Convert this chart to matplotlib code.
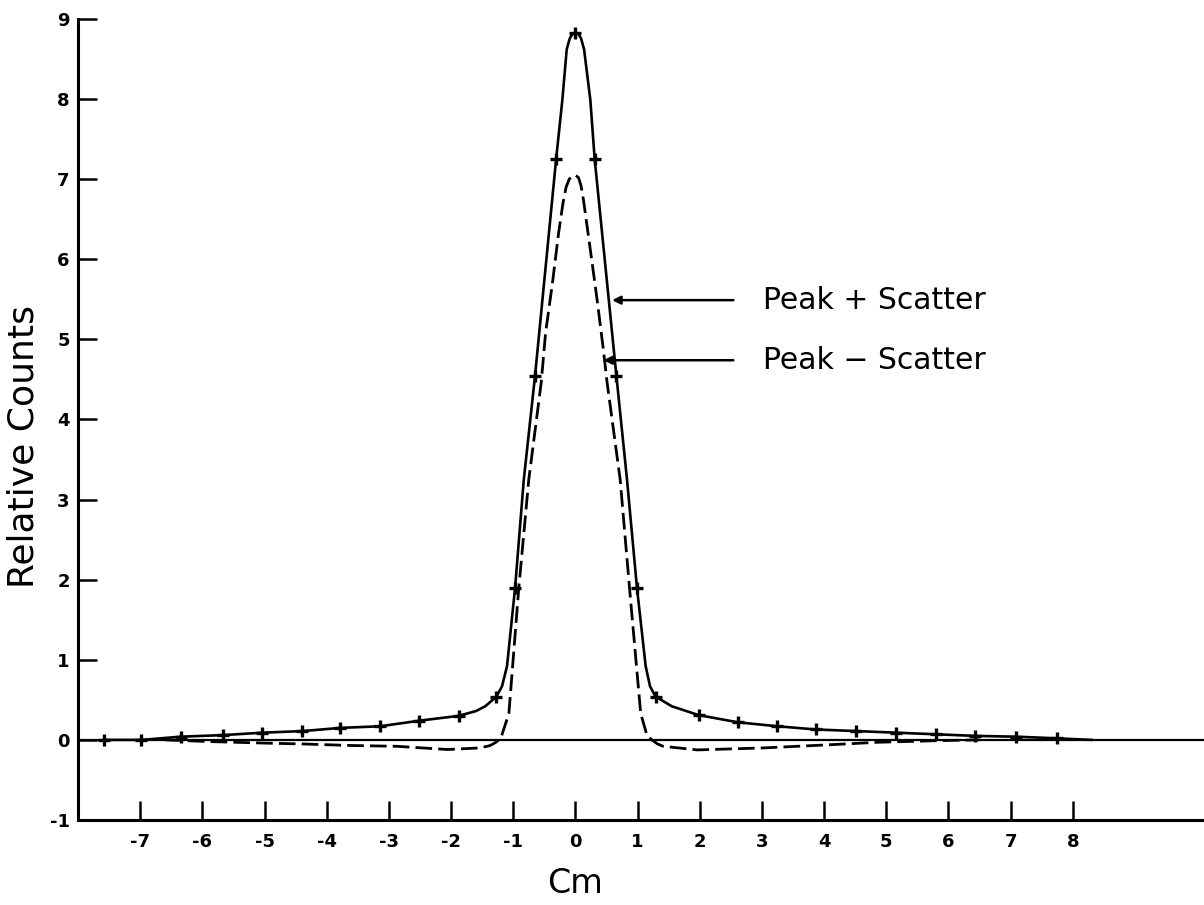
import numpy as np
import matplotlib.pyplot as plt

# Peak + Scatter: traced curve and the measured points (+)
peak_scatter_x = [-7.58, -6.98, -6.35, -5.66, -5.04, -4.39, -3.78, -3.14, -2.51, -1.88,
                  -1.6, -1.45, -1.27, -1.18, -1.10, -0.97, -0.83, -0.65, -0.31, -0.21,
                  -0.14, -0.09, -0.04, 0.0, 0.04, 0.09, 0.14, 0.24, 0.31, 0.66,
                  0.83, 0.99, 1.13, 1.20, 1.29, 1.55, 1.98, 2.61, 3.25, 3.87,
                  4.52, 5.16, 5.80, 6.43, 7.09, 7.74, 8.3]
peak_scatter_y = [0.0, 0.0, 0.04, 0.06, 0.09, 0.11, 0.15, 0.17, 0.24, 0.30,
                  0.36, 0.42, 0.54, 0.67, 0.92, 1.90, 3.25, 4.54, 7.25, 7.99,
                  8.62, 8.76, 8.82, 8.83, 8.82, 8.76, 8.62, 7.99, 7.25, 4.54,
                  3.25, 1.90, 0.92, 0.67, 0.54, 0.42, 0.31, 0.22, 0.17, 0.13,
                  0.11, 0.09, 0.07, 0.05, 0.04, 0.02, 0.0]

point_x = [-7.58, -6.98, -6.35, -5.66, -5.04, -4.39, -3.78, -3.14, -2.51, -1.88,
           -1.27, -0.97, -0.65, -0.31, 0.0, 0.31, 0.66, 0.99, 1.29, 1.98,
           2.61, 3.25, 3.87, 4.52, 5.16, 5.80, 6.43, 7.09, 7.74]
point_y = [0.0, 0.0, 0.04, 0.06, 0.09, 0.11, 0.15, 0.17, 0.24, 0.30,
           0.54, 1.90, 4.54, 7.25, 8.83, 7.25, 4.54, 1.90, 0.54, 0.31,
           0.22, 0.17, 0.13, 0.11, 0.09, 0.07, 0.05, 0.04, 0.02]

# Peak - Scatter (dashed)
peak_minus_x = [-6.6, -5.92, -5.0, -4.42, -3.6, -2.87, -2.06, -1.53, -1.37, -1.28,
                -1.20, -1.07, -0.91, -0.75, -0.55, -0.48, -0.37, -0.27, -0.20, -0.15,
                -0.10, -0.05, 0.0, 0.05, 0.09, 0.13, 0.24, 0.35, 0.45, 0.51,
                0.72, 0.87, 1.05, 1.15, 1.23, 1.32, 1.41, 1.96, 3.03, 4.1,
                4.85, 5.8, 6.5]
peak_minus_y = [0.0, -0.02, -0.04, -0.05, -0.07, -0.08, -0.12, -0.10, -0.07, -0.03,
                0.02, 0.33, 1.90, 3.25, 4.46, 5.08, 5.70, 6.33, 6.70, 6.90,
                7.00, 7.04, 7.05, 7.02, 6.92, 6.74, 6.12, 5.49, 4.87, 4.46,
                3.25, 1.90, 0.33, 0.06, 0.0, -0.05, -0.08, -0.125, -0.10, -0.06,
                -0.03, -0.01, 0.0]

x_ticks = list(range(-7, 9))
y_ticks = list(range(-1, 10))

labels = ["Peak + Scatter", "Peak \u2212 Scatter"]
label_y = [5.49, 4.74]
arrow_tip_x = [0.59, 0.45]

fig = plt.figure(figsize=(12.04, 9.05), dpi=100)
ax = fig.add_axes([78 / 1204, 85 / 905, 1 - 78 / 1204, 801 / 905])

ax.axhline(0, color='black', lw=1.6, zorder=1)
ax.plot(peak_scatter_x, peak_scatter_y, color='black', lw=1.9, zorder=2)
ax.plot(point_x, point_y, ls='none', marker='+', ms=9, mew=2.4, color='black', zorder=3)
ax.plot(peak_minus_x, peak_minus_y, color='black', lw=2.0, dashes=(6, 2.2), zorder=2)

for txt, yy, xt in zip(labels, label_y, arrow_tip_x):
    ax.annotate('', xy=(xt, yy), xytext=(2.54, yy),
                arrowprops=dict(arrowstyle='-|>', lw=1.8, color='black',
                                mutation_scale=12, shrinkA=0, shrinkB=0))
    ax.text(3.02, yy, txt, fontsize=21.5, va='center', ha='left')

ax.set_xlim(-8, 10.11)
ax.set_ylim(-1, 9)
ax.set_xticks(x_ticks)
ax.set_xticklabels([str(v) for v in x_ticks], fontweight='bold', fontsize=13)
ax.set_yticks(y_ticks)
ax.set_yticklabels([str(v) for v in y_ticks], fontweight='bold', fontsize=13)
ax.tick_params(axis='both', direction='in', length=14, width=1.8)
ax.tick_params(axis='x', pad=9)
ax.tick_params(axis='y', pad=6)

for s in ['top', 'right']:
    ax.spines[s].set_visible(False)
for s in ['left', 'bottom']:
    ax.spines[s].set_linewidth(2.2)

fig.text(24 / 1204, 1 - 447 / 905, "Relative Counts", rotation=90, fontsize=26,
         ha='center', va='center')
fig.text(575 / 1204, 1 - 883 / 905, "Cm", fontsize=24, ha='center', va='center')

fig.savefig('out.png', dpi=100)
